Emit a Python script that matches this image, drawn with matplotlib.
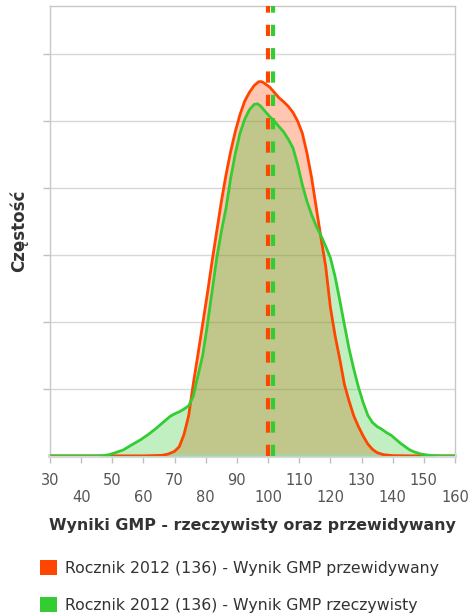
import matplotlib
matplotlib.use("Agg")
import matplotlib.pyplot as plt
from matplotlib.patches import Patch

# score grid (x) and read-off density heights (y, in gridline units)
x_pred = [30, 40, 50, 55, 60, 63, 66, 68, 70, 71.5, 73, 74.5, 76, 77.5, 79, 80.5,
          82, 83.5, 85, 86.5, 88, 89.5, 91, 92.5, 94, 95.5, 97, 98, 99, 100.5,
          102, 103.5, 105, 106.5, 108, 109.5, 111, 112.5, 114, 115.5, 117, 118.5,
          120, 121.5, 123, 124.5, 126, 127.5, 129, 130.5, 132, 133.5, 135, 137,
          140, 145, 150, 160]
y_pred = [0, 0, 0, 0, 0, 0.005, 0.01, 0.03, 0.07, 0.14, 0.32, 0.6, 1.08, 1.52, 1.97, 2.42,
          2.9, 3.35, 3.8, 4.2, 4.55, 4.85, 5.1, 5.3, 5.43, 5.53, 5.59, 5.59, 5.56, 5.51,
          5.43, 5.35, 5.29, 5.22, 5.13, 5.0, 4.82, 4.52, 4.15, 3.7, 3.25, 2.83,
          2.22, 1.8, 1.45, 1.07, 0.82, 0.6, 0.44, 0.3, 0.18, 0.1, 0.05, 0.02,
          0.005, 0, 0, 0]

x_real = [30, 40, 45, 47, 49, 51, 53.5, 56, 59, 61.5, 64, 66.5, 68.5, 70, 71.5, 73,
          74.5, 76, 77, 78, 79, 80.5, 82, 83.5, 85, 86.5, 88, 89.5, 91, 92.5, 94,
          95.5, 96.5, 97.5, 99, 100.5, 102, 103.5, 105, 106.5, 108, 109.5, 111,
          112.5, 114, 115.5, 117, 118.5, 120, 121.5, 123, 124.5, 126, 127.5, 129,
          130.5, 132, 133.5, 135, 136.5, 138, 139.5, 141, 142.5, 144, 145.5, 147,
          149, 151, 153, 155, 160]
y_real = [0, 0, 0, 0.005, 0.02, 0.05, 0.09, 0.16, 0.24, 0.32, 0.41, 0.51, 0.59, 0.63, 0.66, 0.7,
          0.75, 0.89, 1.1, 1.3, 1.5, 1.95, 2.45, 2.95, 3.35, 3.7, 4.15, 4.52, 4.82, 5.03, 5.17,
          5.25, 5.26, 5.23, 5.15, 5.07, 5.0, 4.92, 4.84, 4.73, 4.6, 4.35, 4.05,
          3.8, 3.6, 3.43, 3.29, 3.13, 2.96, 2.68, 2.33, 1.96, 1.6, 1.3, 1.03,
          0.8, 0.61, 0.5, 0.44, 0.4, 0.35, 0.31, 0.25, 0.19, 0.14, 0.09, 0.06,
          0.03, 0.015, 0.005, 0, 0]

mean_pred = 100.0
mean_real = 101.6

labels = ["Rocznik 2012 (136) - Wynik GMP przewidywany",
          "Rocznik 2012 (136) - Wynik GMP rzeczywisty"]
xticks = list(range(30, 161, 10))

c_pred = "#FF4500"
c_real = "#33CC33"

fig = plt.figure(figsize=(4.75, 6.16), dpi=100)
ax = fig.add_axes([50 / 475, 1 - 456 / 616, 405 / 475, 450 / 616])

ax.fill_between(x_pred, y_pred, color=c_pred, alpha=0.3, lw=0, zorder=2)
ax.fill_between(x_real, y_real, color=c_real, alpha=0.3, lw=0, zorder=3)
ax.plot(x_pred, y_pred, color=c_pred, lw=2, solid_joinstyle="round", zorder=4)
ax.plot(x_real, y_real, color=c_real, lw=2, solid_joinstyle="round", zorder=5)
ax.axvline(mean_pred, color=c_pred, lw=3, ls=(0, (2.7, 2.9)), zorder=6)
ax.axvline(mean_real, color=c_real, lw=3, ls=(0, (2.7, 2.9)), zorder=6)

ax.set_xlim(30, 160)
ax.set_ylim(0, 6.72)
ax.set_yticks(range(1, 7))
ax.grid(axis="y", color="#D8D8D8", lw=1)
ax.set_axisbelow(True)
ax.tick_params(axis="y", length=5, color="#C0C0C0", width=1, labelleft=False)

ax.set_xticks(xticks)
ax.set_xticklabels([str(t) if i % 2 == 0 else "\n" + str(t) for i, t in enumerate(xticks)],
                   fontsize=10.5, color="#555555", linespacing=1.15)
ax.tick_params(axis="x", length=5, color="#C0C0C0", width=1, pad=7.5)

for s in ["top", "left", "right"]:
    ax.spines[s].set_color("#C8C8C8")
    ax.spines[s].set_linewidth(1)
ax.spines["bottom"].set_color("#D8D8D8")
ax.spines["bottom"].set_linewidth(3)

ax.set_xlabel("Wyniki GMP - rzeczywisty oraz przewidywany", fontsize=11.4,
              fontweight="bold", color="#333333", labelpad=9)
ax.set_ylabel("Częstość", fontsize=12, fontweight="bold", color="#333333", labelpad=11)

handles = [Patch(facecolor=c_pred, edgecolor="none"), Patch(facecolor=c_real, edgecolor="none")]
fig.legend(handles, labels, loc="upper left", bbox_to_anchor=(34 / 475, 1 - 554 / 616),
           frameon=False, fontsize=11.3, labelcolor="#333333", handlelength=1.08,
           handleheight=1.08, handletextpad=0.5, labelspacing=1.33, borderaxespad=0)

fig.savefig("out.png", dpi=100)
